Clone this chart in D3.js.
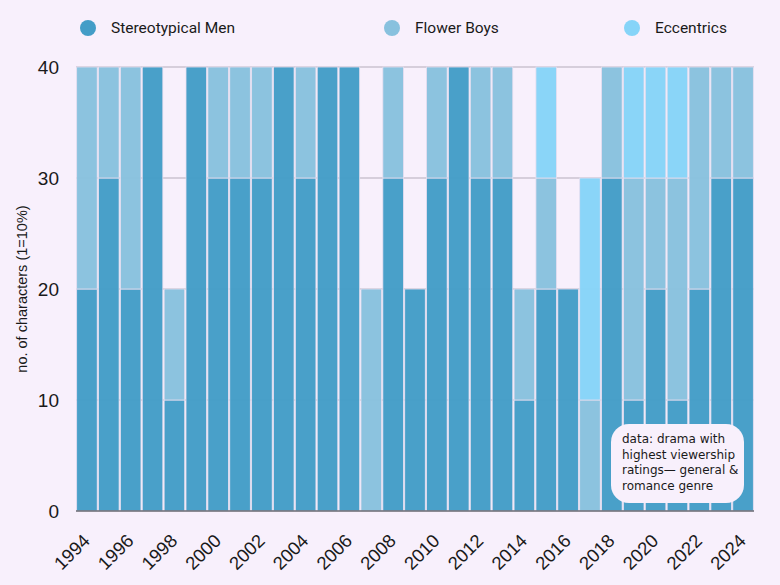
<!DOCTYPE html>
<html>
<head>
<meta charset="utf-8">
<script src="https://cdn.jsdelivr.net/npm/d3@7"></script>
<style>
  html, body { margin: 0; padding: 0; background: #f8f0fc; }
  svg { display: block; }
</style>
</head>
<body>
<svg id="chart" width="780" height="585"></svg>
<script>
const years = ["1994","1995","1996","1997","1998","1999","2000","2001","2002","2003","2004","2005","2006","2007","2008","2009","2010","2011","2012","2013","2014","2015","2016","2017","2018","2019","2020","2021","2022","2023","2024"];
const stereotypicalMen = [20,30,20,40,10,40,30,30,30,40,30,40,40,0,30,20,30,40,30,30,10,20,20,0,30,10,20,10,20,30,30];
const flowerBoys       = [20,10,20,0,10,0,10,10,10,0,10,0,0,20,10,0,10,0,10,10,10,10,0,10,10,20,10,20,20,10,10];
const eccentrics       = [0,0,0,0,0,0,0,0,0,0,0,0,0,0,0,0,0,0,0,0,0,10,0,20,0,10,10,10,0,0,0];
const seriesNames = ["Stereotypical Men","Flower Boys","Eccentrics"];
const seriesColors = ["#439dc7","#88c1de","#86d4f8"];
const yTicks = [0,10,20,30,40];
const xTickLabels = ["1994","1996","1998","2000","2002","2004","2006","2008","2010","2012","2014","2016","2018","2020","2022","2024"];
const yLabel = "no. of characters (1=10%)";
const noteLines = ["data: drama with","highest viewership","ratings\u2014 general &","romance genre"];

const svg = d3.select("#chart");
const m = {left: 76, right: 26, top: 67, bottom: 74};
const W = 780, H = 585;

const x = d3.scaleBand().domain(years).range([m.left, W - m.right]).paddingInner(0.06).paddingOuter(0.03);
const y = d3.scaleLinear().domain([0, 40]).range([H - m.bottom, m.top]);

// grid
svg.append("g").selectAll("line").data(yTicks.filter(d => d > 0)).join("line")
  .attr("x1", m.left).attr("x2", W - m.right)
  .attr("y1", d => y(d)).attr("y2", d => y(d))
  .attr("stroke", "#cbc3d0").attr("stroke-width", 1.5);

// stacked data
const rows = years.map((yr, i) => ({year: yr, "Stereotypical Men": stereotypicalMen[i], "Flower Boys": flowerBoys[i], "Eccentrics": eccentrics[i]}));
const stack = d3.stack().keys(seriesNames)(rows);

svg.append("g").selectAll("g").data(stack).join("g")
  .attr("fill", (d, i) => seriesColors[i])
  .selectAll("rect").data(d => d.filter(s => s[1] > s[0])).join("rect")
  .attr("x", d => x(d.data.year))
  .attr("width", x.bandwidth())
  .attr("y", d => y(d[1]))
  .attr("height", d => y(d[0]) - y(d[1]))
  .attr("stroke", "#e6def0").attr("stroke-width", 0.8)
  .attr("fill-opacity", 0.97);

// bottom axis line
svg.append("line").attr("x1", m.left).attr("x2", W - m.right)
  .attr("y1", y(0)).attr("y2", y(0)).attr("stroke", "#6b6b73").attr("stroke-width", 1.5);

// y tick labels
svg.append("g").selectAll("text").data(yTicks).join("text")
  .attr("x", 59).attr("y", d => y(d)).attr("dy", "0.35em")
  .attr("text-anchor", "end")
  .attr("font-family", "Liberation Sans, Arial, sans-serif")
  .attr("font-size", 19).attr("fill", "#1a1a1a")
  .text(d => d);

// y label
svg.append("text")
  .attr("transform", `translate(27, ${(y(0) + y(40)) / 2}) rotate(-90)`)
  .attr("text-anchor", "middle")
  .attr("font-family", "Liberation Sans, Arial, sans-serif")
  .attr("font-size", 14.5).attr("fill", "#1a1a1a")
  .text(yLabel);

// x tick labels
svg.append("g").selectAll("text").data(xTickLabels).join("text")
  .attr("transform", d => `translate(${x(d) + x.bandwidth() / 2 + 4}, ${y(0) + 31}) rotate(-45)`)
  .attr("text-anchor", "end")
  .attr("font-family", "Liberation Sans, Arial, sans-serif")
  .attr("font-size", 18.5).attr("fill", "#1a1a1a")
  .text(d => d);

// legend
const legendX = [88, 392, 632];
const lg = svg.append("g").selectAll("g").data(seriesNames).join("g")
  .attr("transform", (d, i) => `translate(${legendX[i]}, 28)`);
lg.append("circle").attr("r", 8).attr("fill", (d, i) => seriesColors[i]);
lg.append("text").attr("x", 23).attr("dy", "0.35em")
  .attr("font-family", "Roboto, sans-serif").attr("font-size", 15.5).attr("fill", "#1a1a1a")
  .text(d => d);

// note box
const note = svg.append("g").attr("transform", "translate(611, 424)");
note.append("rect").attr("width", 133).attr("height", 79).attr("rx", 18).attr("ry", 18)
  .attr("fill", "#f8f0fc");
note.selectAll("text").data(noteLines).join("text")
  .attr("x", 11).attr("y", (d, i) => 19 + i * 15.5)
  .attr("font-family", "DejaVu Sans, sans-serif").attr("font-size", 12).attr("fill", "#1a1a1a")
  .text(d => d);
</script>
</body>
</html>
